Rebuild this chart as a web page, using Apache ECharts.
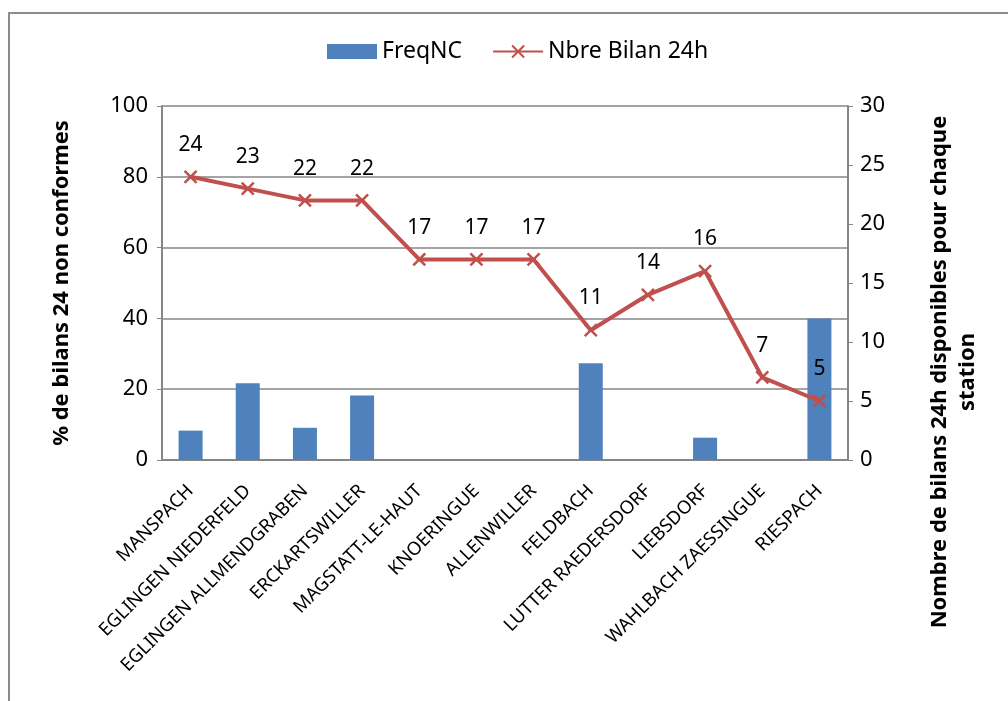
<!DOCTYPE html>
<html><head><meta charset="utf-8">
<script src="https://cdn.jsdelivr.net/npm/echarts@6/dist/echarts.min.js"></script>
<style>html,body{margin:0;padding:0;background:#fff}#c{width:1008px;height:701px}</style>
</head><body><div id="c"></div>
<script>
const categories = ['MANSPACH','EGLINGEN NIEDERFELD','EGLINGEN ALLMENDGRABEN','ERCKARTSWILLER','MAGSTATT-LE-HAUT','KNOERINGUE','ALLENWILLER','FELDBACH','LUTTER RAEDERSDORF','LIEBSDORF','WAHLBACH ZAESSINGUE','RIESPACH'];
const freqNC = [8.3, 21.7, 9.1, 18.2, 0, 0, 0, 27.3, 0, 6.3, 0, 40];
const nbreBilan = [24, 23, 22, 22, 17, 17, 17, 11, 14, 16, 7, 5];
const leftTicks = [0, 20, 40, 60, 80, 100];
const rightTicks = [0, 5, 10, 15, 20, 25, 30];

const FONT = 'Noto Sans';
const gray = '#868686';
const chart = echarts.init(document.getElementById('c'));
chart.setOption({
  animation: false,
  textStyle: {fontFamily: FONT},
  legend: {
    top: 35, left: 322, itemGap: 30, itemWidth: 50, itemHeight: 15,
    textStyle: {fontSize: 23, color: '#000', fontFamily: FONT},
    data: [{name: 'FreqNC', icon: 'rect'}, {name: 'Nbre Bilan 24h'}]
  },
  grid: {left: 162, right: 160, top: 106, bottom: 241},
  xAxis: {
    type: 'category', data: categories,
    axisLine: {lineStyle: {color: gray, width: 2}},
    axisTick: {show: false},
    axisLabel: {rotate: 45, interval: 0, fontSize: 18.5, color: '#000', margin: 28, fontFamily: FONT}
  },
  yAxis: [{
    type: 'value', min: leftTicks[0], max: leftTicks[leftTicks.length-1], interval: 20,
    axisLine: {show: true, lineStyle: {color: gray, width: 2}},
    axisTick: {show: true, length: 5, lineStyle: {color: gray}},
    splitLine: {lineStyle: {color: gray, width: 1.5}},
    axisLabel: {fontSize: 22, color: '#000', margin: 14, fontFamily: FONT}
  }, {
    type: 'value', min: rightTicks[0], max: rightTicks[rightTicks.length-1], interval: 5,
    axisLine: {show: true, lineStyle: {color: gray, width: 2}},
    axisTick: {show: true, length: 5, lineStyle: {color: gray}},
    splitLine: {show: false},
    axisLabel: {fontSize: 22, color: '#000', margin: 12, fontFamily: FONT}
  }],
  series: [{
    name: 'FreqNC', type: 'bar', data: freqNC, barWidth: 24,
    itemStyle: {color: '#4F81BD'}, yAxisIndex: 0
  }, {
    name: 'Nbre Bilan 24h', type: 'line', data: nbreBilan, yAxisIndex: 1,
    symbol: 'path://M0,0 L10,10 M10,0 L0,10', symbolSize: 12,
    itemStyle: {color: '#C0504D', borderColor: '#C0504D', borderWidth: 2.5},
    lineStyle: {color: '#C0504D', width: 4},
    label: {show: true, position: 'top', distance: 14, fontSize: 21, color: '#000', fontFamily: FONT},
    z: 5
  }],
  graphic: [
    {type: 'rect', shape: {x: 9, y: 13, width: 1200, height: 900}, style: {fill: null, stroke: '#8c8c8c', lineWidth: 2}, silent: true},
    {type: 'text', x: 62, y: 283, rotation: Math.PI/2, style: {text: '% de bilans 24 non conformes', font: 'bold 22px "Noto Sans"', fill: '#000', align: 'center', verticalAlign: 'middle'}},
    {type: 'text', x: 954, y: 372, rotation: Math.PI/2, style: {text: 'Nombre de bilans 24h disponibles pour chaque\nstation', font: 'bold 22px "Noto Sans"', lineHeight: 28, fill: '#000', align: 'center', verticalAlign: 'middle'}}
  ]
});
</script></body></html>
